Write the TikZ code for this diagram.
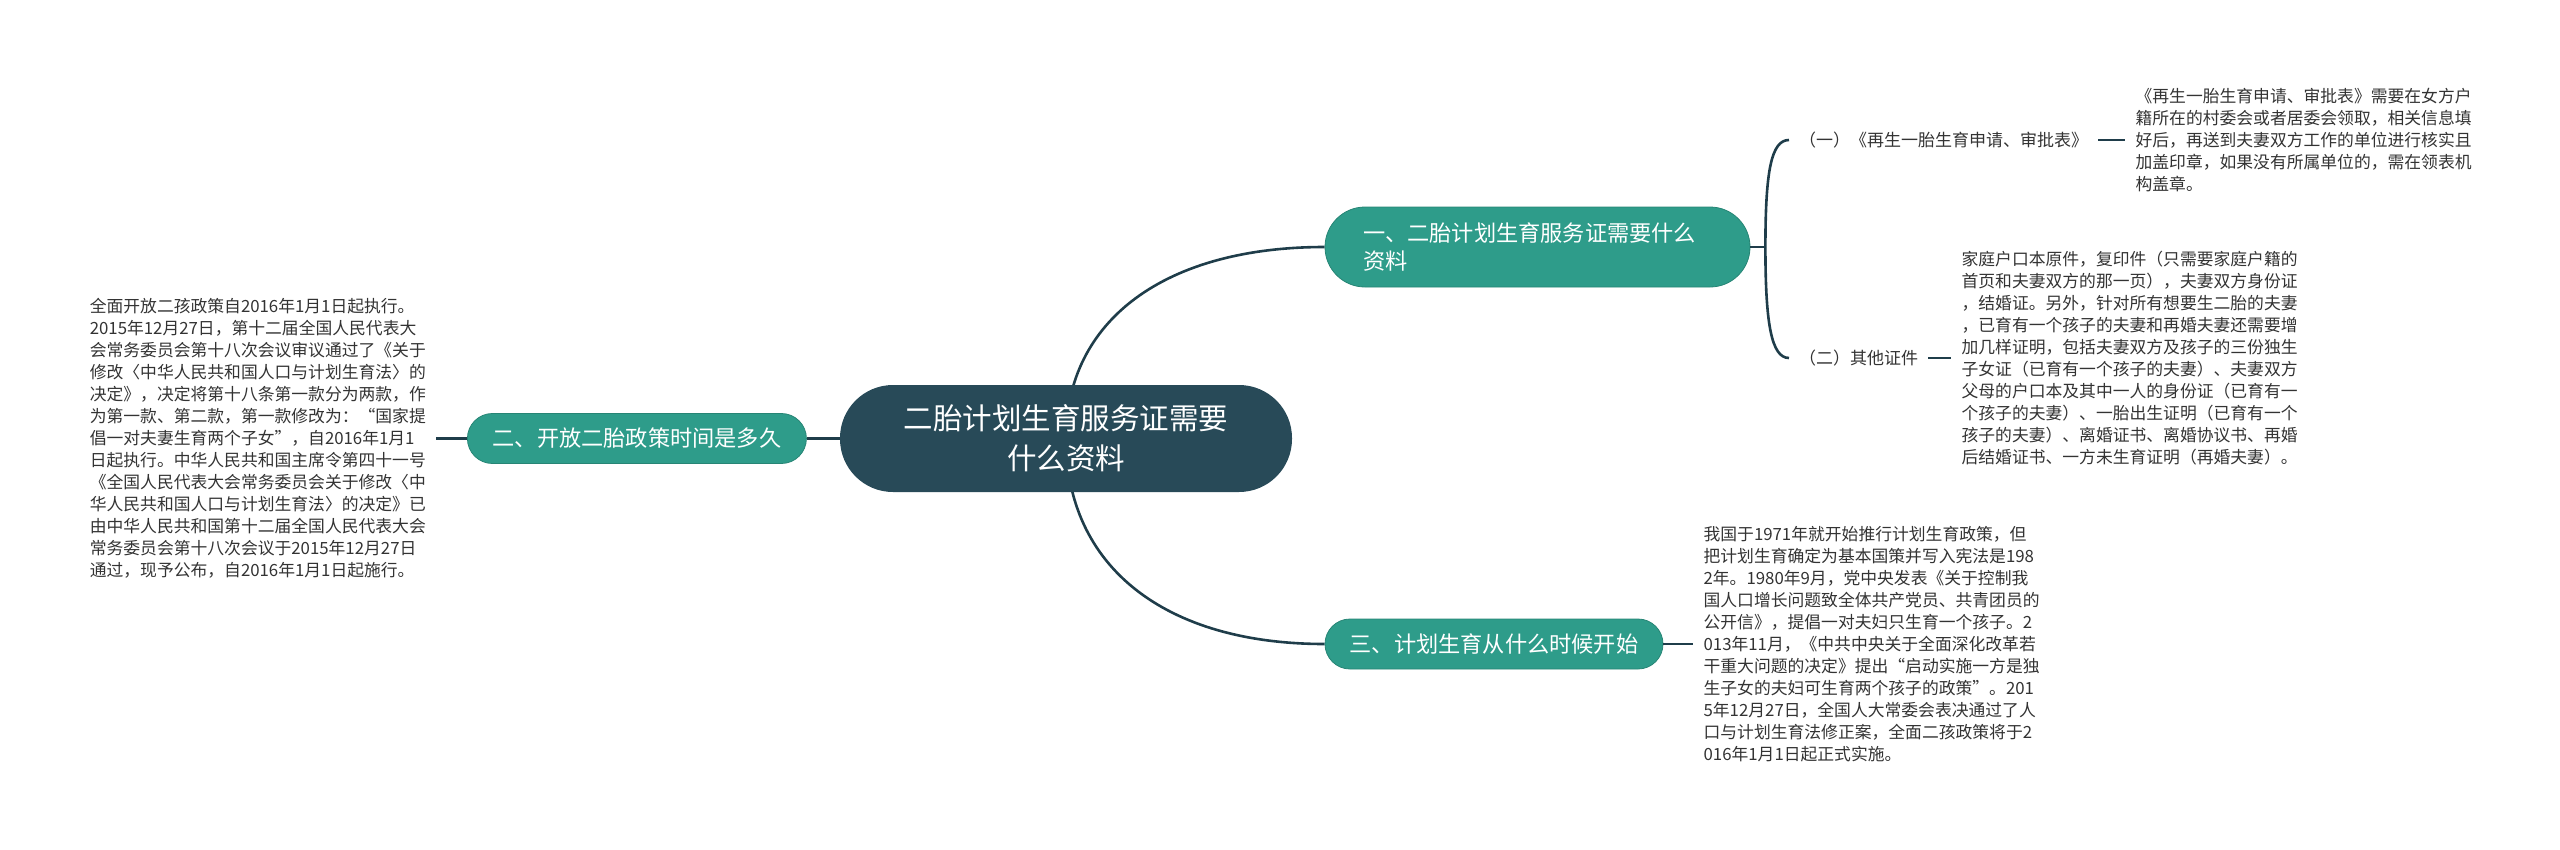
\documentclass[tikz,border=0pt]{standalone}
\usepackage{fontspec}
\setmainfont{Noto Sans CJK SC}
\usepackage{xcolor}
\definecolor{mainDark}{HTML}{1F3D4A}
\definecolor{rootColor}{HTML}{284A58}
\definecolor{branchColor}{HTML}{2E9C8A}
\definecolor{leafGray}{HTML}{333333}
\usepackage{tikz}
\usetikzlibrary{positioning,calc,backgrounds}
\tikzset{
  rootBox/.style={
    rectangle,
    rounded corners=53pt,
    fill=rootColor,
    text=white,
    minimum width=452pt,
    minimum height=107pt,
    align=center,
    font=\fontsize{29.5}{40}\selectfont
 },
  branchBox/.style={
    rectangle,
    rounded corners=25pt,
    fill=branchColor,
    draw=branchColor!85!black,
    line width=0.8pt,
    text=white,
    minimum height=50pt,
    align=center,
    font=\fontsize{22.2}{28}\selectfont
 },
  leafLabel/.style={
    inner xsep=10pt,
    inner ysep=2pt,
    text=leafGray,
    font=\fontsize{17}{22}\selectfont
 },
  leafText/.style={
    inner xsep=10pt,
    align=left,
    text=leafGray,
    font=\fontsize{16.8}{22}\selectfont
 },
  linkLine/.style={
    draw=mainDark,
    line width=2.6pt
 }
}

\begin{document}
\begin{tikzpicture}[x=1pt,y=-1pt]
            \useasboundingbox (0,0) rectangle (2560,849);

            \node[rootBox] (root) at (1066,438.5) {二胎计划生育服务证需要\\什么资料};
            \node[branchBox, left=33pt of root, minimum width=339pt] (openTime) {二、开放二胎政策时间是多久};
            \node[branchBox, align=left, text width=349pt, inner xsep=38pt, minimum height=80pt, rounded corners=40pt] (needDocs) at (1537.5,247) {一、二胎计划生育服务证需要什么\\资料};
            \node[branchBox, minimum width=338pt] (startTime) at (1494,644) {三、计划生育从什么时候开始};

            % leaves of the first branch
            \coordinate (docsHub) at ($(needDocs.east)+(15,0)$);
            \node[leafLabel, anchor=west] (formItem) at (1789,140) {（一）《再生一胎生育申请、审批表》};
            \node[leafLabel, anchor=west] (otherItem) at (1789,358) {（二）其他证件};
            \node[leafText, right=27pt of formItem] (formText) {《再生一胎生育申请、审批表》需要在女方户\\
籍所在的村委会或者居委会领取，相关信息填\\
好后，再送到夫妻双方工作的单位进行核实且\\
加盖印章，如果没有所属单位的，需在领表机\\
构盖章。};
            \node[leafText, right=23pt of otherItem] (otherText) {家庭户口本原件，复印件（只需要家庭户籍的\\
首页和夫妻双方的那一页），夫妻双方身份证\\
，结婚证。另外，针对所有想要生二胎的夫妻\\
，已育有一个孩子的夫妻和再婚夫妻还需要增\\
加几样证明，包括夫妻双方及孩子的三份独生\\
子女证（已育有一个孩子的夫妻）、夫妻双方\\
父母的户口本及其中一人的身份证（已育有一\\
个孩子的夫妻）、一胎出生证明（已育有一个\\
孩子的夫妻）、离婚证书、离婚协议书、再婚\\
后结婚证书、一方未生育证明（再婚夫妻）。};

            % leaf of the second branch
            \node[leafText, left=31pt of openTime] (openText) {全面开放二孩政策自2016年1月1日起执行。\\
2015年12月27日，第十二届全国人民代表大\\
会常务委员会第十八次会议审议通过了《关于\\
修改〈中华人民共和国人口与计划生育法〉的\\
决定》，决定将第十八条第一款分为两款，作\\
为第一款、第二款，第一款修改为：“国家提\\
倡一对夫妻生育两个子女”，自2016年1月1\\
日起执行。中华人民共和国主席令第四十一号\\
《全国人民代表大会常务委员会关于修改〈中\\
华人民共和国人口与计划生育法〉的决定》已\\
由中华人民共和国第十二届全国人民代表大会\\
常务委员会第十八次会议于2015年12月27日\\
通过，现予公布，自2016年1月1日起施行。};

            % leaf of the third branch
            \node[leafText, right=30pt of startTime] (startText) {我国于1971年就开始推行计划生育政策，但\\
把计划生育确定为基本国策并写入宪法是198\\
2年。1980年9月，党中央发表《关于控制我\\
国人口增长问题致全体共产党员、共青团员的\\
公开信》，提倡一对夫妇只生育一个孩子。2\\
013年11月，《中共中央关于全面深化改革若\\
干重大问题的决定》提出“启动实施一方是独\\
生子女的夫妇可生育两个孩子的政策”。201\\
5年12月27日，全国人大常委会表决通过了人\\
口与计划生育法修正案，全面二孩政策将于2\\
016年1月1日起正式实施。};

            \begin{pgfonlayer}{background}
            \draw[linkLine] (root.center) .. controls +(0,-118) and +(-160,0) .. (needDocs.west);
            \draw[linkLine] (root.center) .. controls +(0,128) and +(-160,0) .. (startTime.west);
            \end{pgfonlayer}
            \draw[linkLine] (root) -- (openTime);
            \draw[linkLine] (openTime.west) -- (openTime.west -| openText.east);
            \draw[linkLine] (startTime.east) -- (startTime.east -| startText.west);

            % bracket to the two items
            \draw[linkLine] (needDocs.east) -- (docsHub);
            \draw[linkLine] (docsHub) .. controls +(0,-75) and +(-18,0) .. (formItem.west);
            \draw[linkLine] (docsHub) .. controls +(0,75) and +(-18,0) .. (otherItem.west);
            \draw[linkLine] (formItem.east) -- (formItem.east -| formText.west);
            \draw[linkLine] (otherItem.east) -- (otherItem.east -| otherText.west);
        \end{tikzpicture}
\end{document}
